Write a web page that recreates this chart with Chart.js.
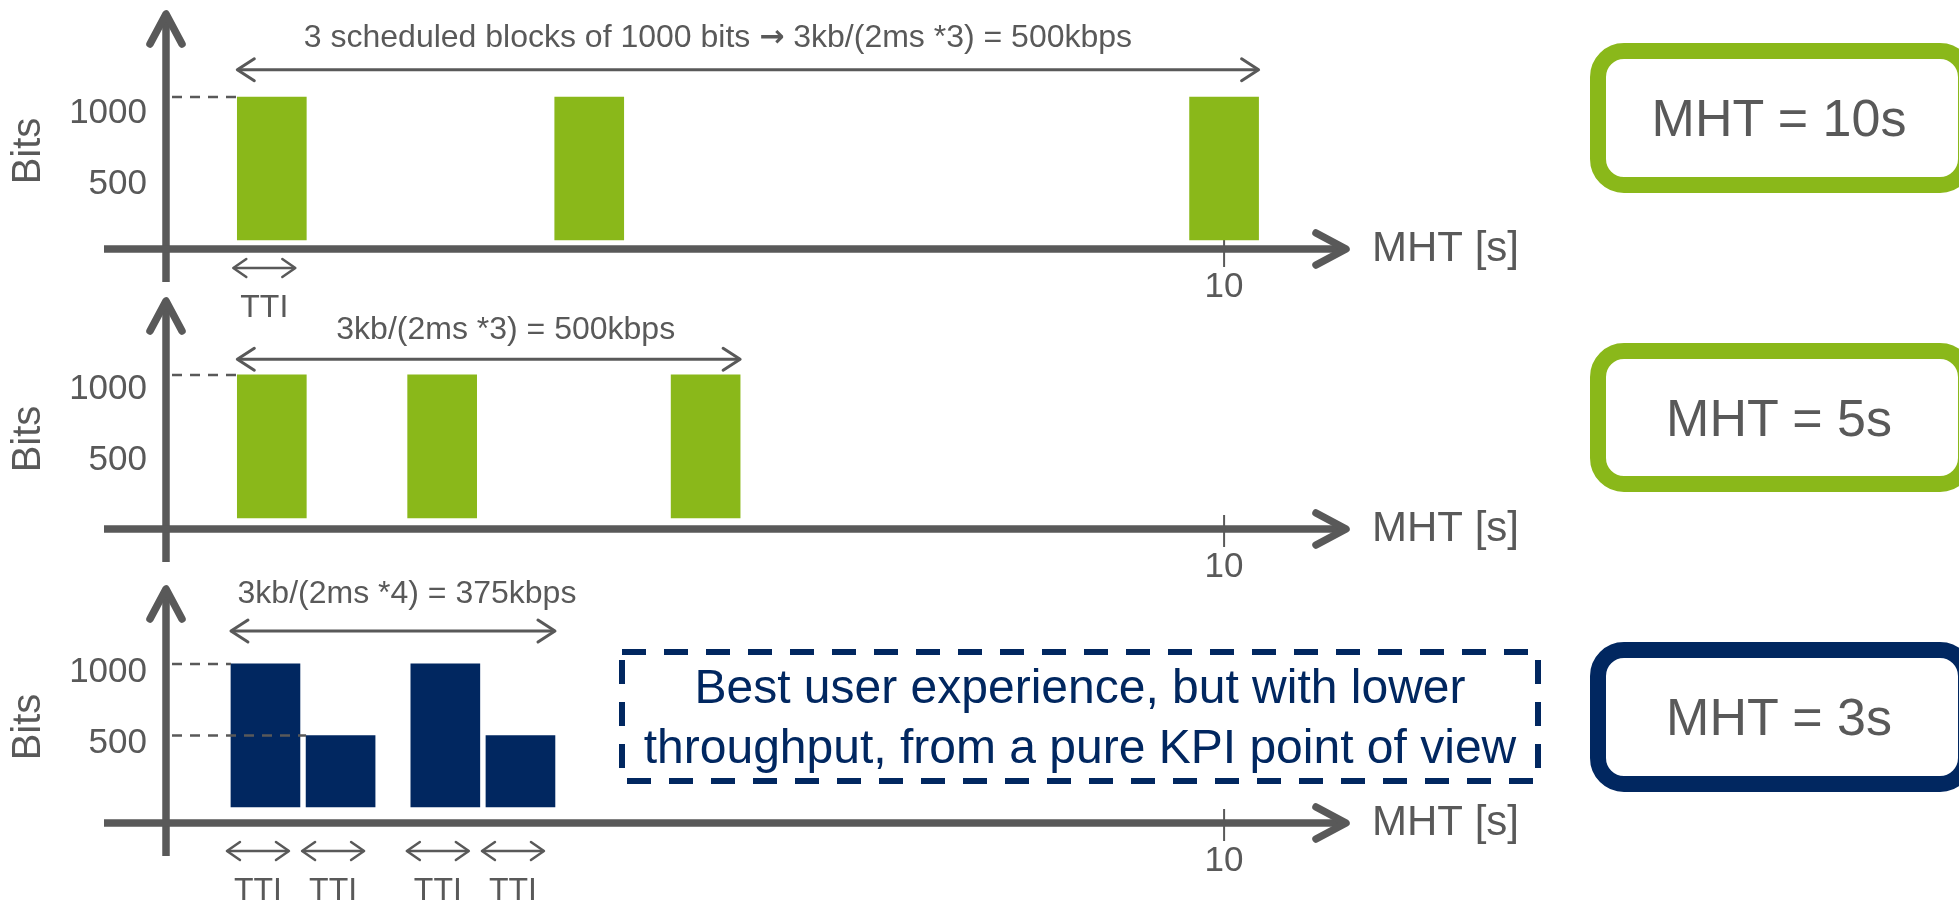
<!DOCTYPE html>
<html lang="en">
<head>
<meta charset="UTF-8">
<title>MHT scheduling</title>
<script src="https://cdn.jsdelivr.net/npm/chart.js"></script>
<style>
  html, body { margin: 0; padding: 0; background: #fff; overflow: hidden; }
  body { width: 1959px; height: 900px; position: relative; font-family: "Liberation Sans", Arial, sans-serif; }
  canvas { position: absolute; left: 0; top: 0; }
  .mht {
    position: absolute; left: 1590px; width: 384px; box-sizing: border-box;
    border: 16px solid #8ab81a; border-radius: 34px; background: #fff;
    display: flex; align-items: center; justify-content: center;
    color: #595959; font-size: 52px; padding-right: 6px;
  }
  #note { position: absolute; left: 619px; top: 649px; width: 922px; height: 135px; }
  #note svg { position: absolute; left: 0; top: 0; }
  #note div {
    position: absolute; left: 0; top: 0; width: 100%; height: 100%;
    display: flex; align-items: center; justify-content: center; text-align: center;
    color: #012760; font-size: 48px; line-height: 60px;
  }
</style>
</head>
<body>
<canvas id="c1" width="1959" height="900"></canvas>
<canvas id="c2" width="1959" height="900"></canvas>
<canvas id="c3" width="1959" height="900"></canvas>

<div class="mht" style="top:43px;height:150px;" id="m1"></div>
<div class="mht" style="top:343px;height:149px;" id="m2"></div>
<div class="mht" style="top:642px;height:150px;border-color:#012760;" id="m3"></div>

<div id="note">
  <svg width="922" height="135"><rect x="3" y="3" width="916" height="129" fill="none" stroke="#012760" stroke-width="6" stroke-dasharray="24 18"/></svg>
  <div>Best user experience, but with lower<br>throughput, from a pure KPI point of view</div>
</div>

<script>
const GREY = '#595959';
const GREEN = '#8ab81a';
const NAVY = '#012760';
const FONT = '"Liberation Sans", Arial, sans-serif';

// scheduled blocks: position on the MHT axis and size in bits
const blocksTime10 = [1, 4, 10];
const blocksBits10 = [1000, 1000, 1000];
const blocksTime5 = [1, 2.61, 5.1];
const blocksBits5 = [1000, 1000, 1000];
const blocksTime3 = [0.94, 1.65, 2.64, 3.35];
const blocksBits3 = [1000, 500, 1000, 500];

const bitTicks = [500, 1000];
const timeTicks = [10];
const spanLabels = [
  '3 scheduled blocks of 1000 bits \u2192 3kb/(2ms *3) = 500kbps',
  '3kb/(2ms *3) = 500kbps',
  '3kb/(2ms *4) = 375kbps'
];
const mhtLabels = ['MHT = 10s', 'MHT = 5s', 'MHT = 3s'];

mhtLabels.forEach((t, i) => { document.getElementById('m' + (i + 1)).textContent = t; });

const panels = [
  { id: 'c1', time: blocksTime10, bits: blocksBits10, color: GREEN, span: spanLabels[0],
    top: 10, bottom: 249, yMin: -63, yMax: 1608, labelOffset: 16, titleY: 151,
    spanAt: 1190, spanDx: -30, spanDy: -32, dashes: [1000], tti: 'first', ttiDy: 19 },
  { id: 'c2', time: blocksTime5, bits: blocksBits5, color: GREEN, span: spanLabels[1],
    top: 297, bottom: 529, yMin: -77, yMax: 1545, labelOffset: 14, titleY: 439,
    spanAt: 1110, spanDx: 17, spanDy: -29, dashes: [1000], tti: 'none', ttiDy: 0 },
  { id: 'c3', time: blocksTime3, bits: blocksBits3, color: NAVY, span: spanLabels[2],
    top: 585, bottom: 823, yMin: -112, yMax: 1552, labelOffset: 8, titleY: 727,
    spanAt: 1230, spanDx: 14, spanDy: -37, dashes: [1000, 500], tti: 'all', ttiDy: 28 }
];

function line(ctx, x0, y0, x1, y1) {
  ctx.beginPath(); ctx.moveTo(x0, y0); ctx.lineTo(x1, y1); ctx.stroke();
}

// open arrow head, (dx, dy) is the pointing direction
function chevron(ctx, tx, ty, dx, dy, d, h) {
  ctx.beginPath();
  ctx.moveTo(tx - dx * d - dy * h, ty - dy * d + dx * h);
  ctx.lineTo(tx, ty);
  ctx.lineTo(tx - dx * d + dy * h, ty - dy * d - dx * h);
  ctx.stroke();
}

function doubleArrow(ctx, x0, x1, y, w, d, h) {
  ctx.lineWidth = w;
  ctx.lineCap = 'round';
  ctx.lineJoin = 'round';
  line(ctx, x0 + 1, y, x1 - 1, y);
  chevron(ctx, x0, y, -1, 0, d, h);
  chevron(ctx, x1, y, 1, 0, d, h);
}

// label text, the arrow glyph is set in a font where it is bigger
function spanText(ctx, text, cx, cy) {
  const parts = text.split('\u2192');
  const main = '32px ' + FONT, arrow = 'bold 30px "DejaVu Sans"';
  ctx.textBaseline = 'middle';
  ctx.textAlign = 'left';
  if (parts.length < 2) {
    ctx.font = main;
    ctx.fillText(text, cx - ctx.measureText(text).width / 2, cy);
    return;
  }
  ctx.font = main;
  const w1 = ctx.measureText(parts[0]).width, w3 = ctx.measureText(parts[1]).width;
  ctx.font = arrow;
  const w2 = ctx.measureText('\u2192').width;
  let x0 = cx - (w1 + w2 + w3) / 2;
  ctx.font = main; ctx.fillText(parts[0], x0, cy);
  ctx.font = arrow; ctx.fillText('\u2192', x0 + w1, cy);
  ctx.font = main; ctx.fillText(parts[1], x0 + w1 + w2, cy);
}

function schematic(p) {
  return {
    id: 'schematic',
    beforeDatasetsDraw(chart) {
      const { ctx, chartArea, scales: { x } } = chart;
      const ax = x.getPixelForValue(0);
      const ay = chartArea.bottom;
      ctx.save();
      ctx.strokeStyle = GREY;
      ctx.lineWidth = 7.5;
      ctx.lineCap = 'butt';
      line(ctx, ax, ay + 33, ax, chartArea.top + 6);
      line(ctx, ax - 62, ay, chartArea.right - 6, ay);
      ctx.lineCap = 'round';
      ctx.lineJoin = 'round';
      chevron(ctx, ax, chartArea.top + 4, 0, -1, 30, 16);
      chevron(ctx, chartArea.right - 4, ay, 1, 0, 30, 16);
      // tick marks on the time axis
      ctx.lineWidth = 2;
      ctx.lineCap = 'butt';
      timeTicks.forEach(v => {
        const tx = x.getPixelForValue(v);
        line(ctx, tx, ay - 14, tx, ay + 18);
      });
      ctx.restore();
    },
    afterDatasetsDraw(chart) {
      const { ctx, chartArea, scales: { x, y } } = chart;
      const bars = chart.getDatasetMeta(0).data;
      const ax = x.getPixelForValue(0);
      const ay = chartArea.bottom;
      ctx.save();
      ctx.strokeStyle = GREY;
      ctx.fillStyle = GREY;

      // dashed guides from the y axis to the first block of that size
      ctx.lineWidth = 2.5;
      ctx.setLineDash([10, 8]);
      p.dashes.forEach(v => {
        const b = bars[p.bits.indexOf(v)];
        const yy = y.getPixelForValue(v);
        line(ctx, ax + 6, yy, b.x - b.width / 2, yy);
      });
      ctx.setLineDash([]);

      // span of the scheduled blocks
      const first = bars[0], last = bars[bars.length - 1];
      const sx0 = first.x - first.width / 2;
      const sx1 = last.x + last.width / 2;
      const sy = y.getPixelForValue(p.spanAt);
      doubleArrow(ctx, sx0, sx1, sy, 3, 17, 11);
      spanText(ctx, p.span, (sx0 + sx1) / 2 + p.spanDx, sy + p.spanDy);

      // TTI markers
      const ttiBars = p.tti === 'all' ? bars : p.tti === 'first' ? [bars[0]] : [];
      ttiBars.forEach(b => {
        const l = b.x - b.width / 2 - 4;
        doubleArrow(ctx, l, l + 62, ay + p.ttiDy, 2.5, 13, 9);
        ctx.font = '32px ' + FONT;
        ctx.textAlign = 'center';
        ctx.textBaseline = 'alphabetic';
        ctx.fillText('TTI', l + 31, ay + p.ttiDy + 49);
      });

      // axis titles
      ctx.font = '42px ' + FONT;
      ctx.textAlign = 'left';
      ctx.textBaseline = 'alphabetic';
      ctx.fillText('MHT [s]', chartArea.right + 22, ay + 12);

      ctx.translate(29, p.titleY);
      ctx.rotate(-Math.PI / 2);
      ctx.font = '40px ' + FONT;
      ctx.textAlign = 'center';
      ctx.textBaseline = 'middle';
      ctx.fillText('Bits', 0, 0);
      ctx.restore();
    }
  };
}

panels.forEach(p => {
  new Chart(document.getElementById(p.id), {
    type: 'bar',
    data: {
      datasets: [{
        data: p.time.map((t, i) => ({ x: t, y: p.bits[i] })),
        backgroundColor: p.color,
        borderWidth: 0,
        barThickness: 69
      }]
    },
    options: {
      responsive: false,
      animation: false,
      events: [],
      layout: { padding: { left: 0, right: 1959 - 1350, top: p.top, bottom: 900 - p.bottom - 60 } },
      plugins: { legend: { display: false }, tooltip: { enabled: false } },
      scales: {
        x: {
          type: 'linear', min: 0, max: 11.19, offset: false,
          grid: { display: false, drawTicks: false, offset: false },
          border: { display: false },
          afterBuildTicks: s => { s.ticks = timeTicks.map(v => ({ value: v })); },
          afterFit: s => { s.height = 60; s.paddingLeft = 0; s.paddingRight = 0; },
          ticks: { color: GREY, font: { size: 35, family: FONT }, padding: 17, maxRotation: 0, callback: v => String(v) }
        },
        y: {
          min: p.yMin, max: p.yMax,
          grid: { display: false, drawTicks: false },
          border: { display: false },
          afterBuildTicks: s => { s.ticks = bitTicks.map(v => ({ value: v })); },
          afterFit: s => { s.width = 166; s.paddingTop = 0; s.paddingBottom = 0; },
          ticks: { color: GREY, font: { size: 35, family: FONT }, padding: 19, labelOffset: p.labelOffset, callback: v => String(v) }
        }
      }
    },
    plugins: [schematic(p)]
  });
});
</script>
</body>
</html>
